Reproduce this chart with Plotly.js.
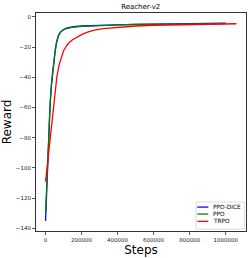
<!DOCTYPE html>
<html>
<head>
<meta charset="utf-8">
<script src="https://cdn.plot.ly/plotly-3.0.1.min.js"></script>
<style>
html,body{margin:0;padding:0;background:#fff;}
#chart{width:249px;height:258px;}
</style>
</head>
<body>
<div id="chart"></div>
<script>
var seriesNames = ["PPO-DICE", "PPO", "TRPO"];
var seriesColors = ["#0000ff", "#008000", "#ff0000"];

var stepsPPO = [0, 4000, 8000, 12000, 17000, 22000, 26000, 32000, 39000, 46000, 54000, 62000, 72000, 85000, 100000, 120000, 155000, 200000, 250000, 300000, 400000, 500000, 600000, 700000, 800000, 900000, 1000000];
var rewardPPODICE = [-135, -122, -112, -98, -82, -66, -56, -46, -37, -29, -22, -16.5, -12.3, -9.8, -8.4, -7.4, -6.6, -6.1, -5.8, -5.6, -5.3, -5.0, -4.8, -4.6, -4.5, -4.3, -4.2];
var rewardPPO = [-130, -120, -114, -99, -82, -66, -56, -46, -37, -29, -22, -16.5, -12.3, -9.8, -8.6, -7.6, -6.8, -6.3, -6.0, -5.8, -5.4, -5.1, -4.9, -4.8, -4.7, -4.6, -4.5];

var stepsTRPO = [0, 10000, 22000, 34000, 48000, 63000, 75000, 85000, 100000, 115000, 130000, 150000, 174000, 200000, 229000, 270000, 320000, 400000, 500000, 600000, 700000, 800000, 900000, 1000000, 1060000];
var rewardTRPO = [-109, -98, -85, -68, -52, -39.5, -32, -27.5, -22.5, -19.5, -17.2, -15.2, -13.3, -11.8, -10.3, -8.9, -7.8, -6.9, -6.1, -5.6, -5.3, -5.0, -4.8, -4.7, -4.6];

var xTicks = [0, 200000, 400000, 600000, 800000, 1000000];
var yTicks = [0, -20, -40, -60, -80, -100, -120, -140];

var xs = [stepsPPO, stepsPPO, stepsTRPO];
var ys = [rewardPPODICE, rewardPPO, rewardTRPO];
var traces = [];
for (var i = 0; i < 3; i++) {
  traces.push({
    x: xs[i], y: ys[i], name: seriesNames[i], type: "scatter", mode: "lines",
    line: {color: seriesColors[i], width: 1.3}, showlegend: false
  });
}

var font = "DejaVu Sans, sans-serif";

// custom compact legend (matplotlib style)
var legX0 = 0.762, legX1 = 0.992, legY0 = 0.009, legY1 = 0.133;
var entryY = [0.1098, 0.0778, 0.0444];
var shapes = [{type: "rect", xref: "paper", yref: "paper", x0: legX0, x1: legX1, y0: legY0, y1: legY1,
  line: {color: "#cccccc", width: 0.7}, fillcolor: "rgba(255,255,255,0.85)", layer: "above"}];
var annotations = [];
for (var j = 0; j < 3; j++) {
  shapes.push({type: "line", xref: "paper", yref: "paper", x0: 0.768, x1: 0.8205, y0: entryY[j], y1: entryY[j],
    line: {color: seriesColors[j], width: 1.3}, layer: "above"});
  annotations.push({xref: "paper", yref: "paper", x: 0.835, y: entryY[j], xanchor: "left", yanchor: "middle",
    text: seriesNames[j], showarrow: false, font: {family: font, size: 5.8, color: "#000"}});
}

var layout = {
  width: 249, height: 258,
  margin: {l: 36, r: 3, t: 12.5, b: 27},
  paper_bgcolor: "#fff", plot_bgcolor: "#fff",
  showlegend: false,
  shapes: shapes, annotations: annotations,
  title: {text: "Reacher-v2", font: {family: font, size: 7, color: "#000"}, x: 0.565, xanchor: "center", y: 0.975, yanchor: "middle"},
  xaxis: {
    range: [-53000, 1113000], tickvals: xTicks, ticktext: xTicks.map(String),
    showgrid: false, zeroline: false, showline: true, mirror: true, linecolor: "#333", linewidth: 1,
    ticks: "outside", ticklen: 3, tickwidth: 0.8, tickcolor: "#333",
    tickfont: {family: font, size: 5.5, color: "#222"},
    title: {text: "Steps", font: {family: font, size: 12, color: "#000"}, standoff: 3}
  },
  yaxis: {
    range: [-141.7, 2.5], tickvals: yTicks, ticktext: yTicks.map(function(v){return v < 0 ? "\u2212" + Math.abs(v) : String(v);}),
    showgrid: false, zeroline: false, showline: true, mirror: true, linecolor: "#333", linewidth: 1,
    ticks: "outside", ticklen: 3, tickwidth: 0.8, tickcolor: "#333",
    tickfont: {family: font, size: 5.5, color: "#222"},
    title: {text: "Reward", font: {family: font, size: 12, color: "#000"}, standoff: 5}
  }
};

Plotly.newPlot("chart", traces, layout, {displayModeBar: false, staticPlot: true});
</script>
</body>
</html>
